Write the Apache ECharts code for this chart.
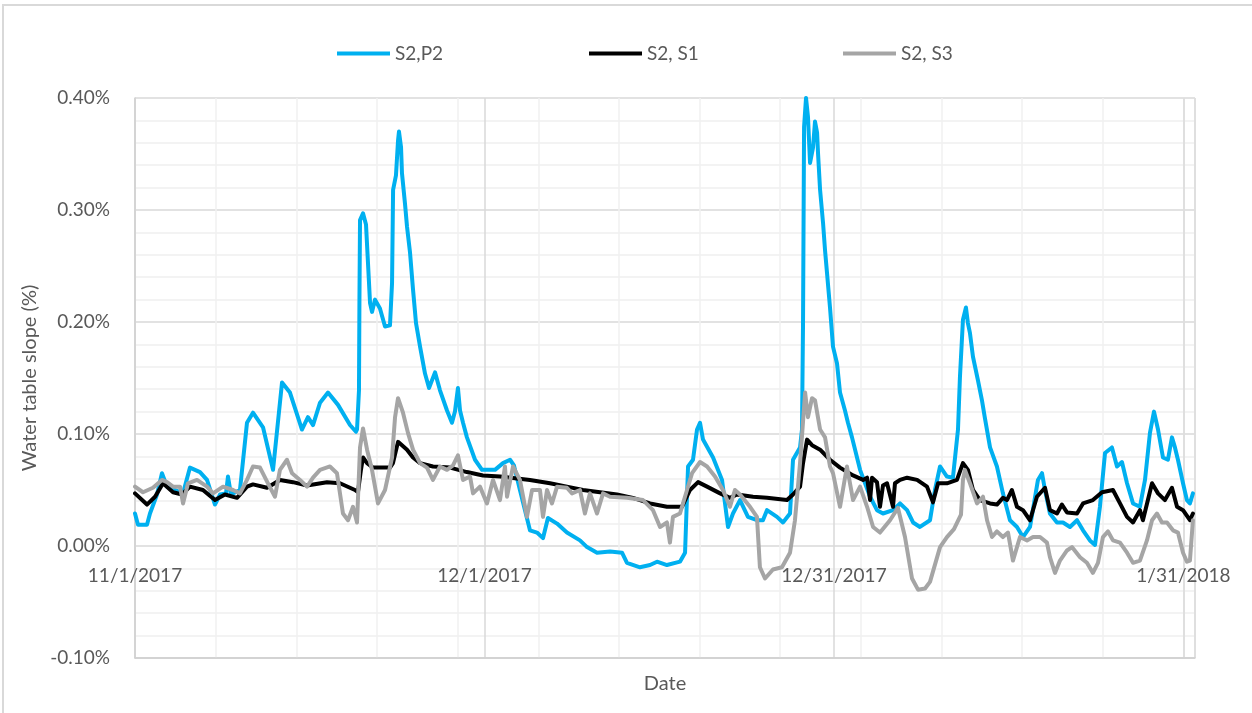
<!DOCTYPE html>
<html>
<head>
<meta charset="utf-8">
<script src="https://cdn.jsdelivr.net/npm/echarts@6/dist/echarts.min.js"></script>
<style>
  html, body { margin: 0; padding: 0; background: #fff; }
  #main { width: 1252px; height: 713px; }
</style>
</head>
<body>
<div id="main"></div>
<script>
// x = days since 11/1/2017, y = slope in %
const seriesNames = ['S2,P2', 'S2, S1', 'S2, S3']
const seriesColors = ['#00b0f0', '#000000', '#a5a5a5']

const p2Data = [
  [0, 0.029], [0.26, 0.019], [1.04, 0.019], [1.3, 0.029], [1.91, 0.046], [2.34, 0.065],
  [2.78, 0.053], [3.47, 0.05], [4.17, 0.047], [4.77, 0.07], [5.64, 0.066], [6.25, 0.059],
  [6.94, 0.037], [7.38, 0.046], [7.9, 0.047], [8.07, 0.062], [8.33, 0.046], [9.11, 0.05],
  [9.72, 0.11], [10.24, 0.119], [11.11, 0.106], [11.98, 0.068], [12.76, 0.146], [13.45, 0.137],
  [14.49, 0.104], [15.01, 0.115], [15.45, 0.108], [16.06, 0.128], [16.75, 0.137], [17.62, 0.126],
  [18.66, 0.108], [19.18, 0.102], [19.27, 0.104], [19.44, 0.139], [19.48, 0.22], [19.53, 0.291],
  [19.79, 0.297], [20.05, 0.287], [20.22, 0.253], [20.4, 0.217], [20.57, 0.209], [20.83, 0.22],
  [21.26, 0.212], [21.7, 0.196], [22.13, 0.197], [22.31, 0.235], [22.4, 0.318], [22.65, 0.331],
  [22.83, 0.362], [22.91, 0.37], [23.09, 0.356], [23.17, 0.333], [23.43, 0.306], [23.61, 0.285],
  [23.87, 0.262], [24.13, 0.229], [24.39, 0.199], [24.74, 0.178], [25.17, 0.154], [25.52, 0.141],
  [26.04, 0.155], [26.47, 0.139], [27.08, 0.121], [27.51, 0.11], [27.77, 0.12], [28.03, 0.141],
  [28.21, 0.121], [28.47, 0.11], [28.81, 0.097], [29.51, 0.077], [30.12, 0.068], [31.24, 0.068],
  [31.94, 0.074], [32.55, 0.077], [32.89, 0.072], [33.41, 0.05], [34.28, 0.014], [34.89, 0.012],
  [35.41, 0.007], [35.84, 0.025], [36.63, 0.02], [37.49, 0.012], [38.62, 0.005], [39.23, -0.001],
  [40.1, -0.006], [41.23, -0.005], [42.27, -0.006], [42.7, -0.015], [43.83, -0.019], [44.7, -0.017],
  [45.31, -0.014], [46.17, -0.017], [47.3, -0.014], [47.74, -0.006], [48.0, 0.071], [48.43, 0.077],
  [48.78, 0.104], [49.04, 0.11], [49.3, 0.095], [50.17, 0.079], [50.95, 0.059], [51.47, 0.017],
  [51.9, 0.029], [52.51, 0.041], [53.2, 0.026], [53.98, 0.023], [54.5, 0.023], [54.85, 0.032],
  [55.72, 0.026], [56.24, 0.021], [56.85, 0.029], [57.11, 0.077], [57.72, 0.088], [57.89, 0.104],
  [57.98, 0.199], [58.07, 0.374], [58.24, 0.4], [58.41, 0.383], [58.59, 0.342], [58.85, 0.356],
  [59.02, 0.379], [59.2, 0.369], [59.28, 0.351], [59.46, 0.318], [59.72, 0.288], [59.89, 0.264],
  [60.06, 0.244], [60.32, 0.213], [60.58, 0.178], [60.93, 0.163], [61.19, 0.137], [61.62, 0.121],
  [61.88, 0.11], [62.23, 0.097], [62.93, 0.068], [63.8, 0.044], [64.4, 0.032], [64.92, 0.029],
  [65.79, 0.032], [66.4, 0.038], [67.01, 0.032], [67.53, 0.021], [68.13, 0.017], [69.0, 0.023],
  [69.43, 0.05], [69.87, 0.071], [70.47, 0.062], [70.99, 0.061], [71.43, 0.104], [71.6, 0.151],
  [71.86, 0.202], [72.12, 0.213], [72.29, 0.199], [72.47, 0.19], [72.73, 0.169], [73.16, 0.148],
  [73.51, 0.13], [73.77, 0.114], [74.21, 0.088], [74.81, 0.071], [75.33, 0.047], [75.94, 0.023],
  [76.55, 0.017], [77.07, 0.008], [77.68, 0.017], [78.37, 0.059], [78.72, 0.065], [78.98, 0.05],
  [79.41, 0.029], [80.02, 0.021], [80.54, 0.021], [81.15, 0.017], [81.76, 0.023], [82.28, 0.014],
  [82.88, 0.005], [83.32, 0.001], [83.75, 0.035], [84.19, 0.083], [84.79, 0.088], [85.23, 0.071],
  [85.66, 0.075], [86.1, 0.056], [86.62, 0.038], [87.22, 0.035], [87.66, 0.059], [88.09, 0.101],
  [88.44, 0.12], [88.79, 0.104], [89.22, 0.079], [89.65, 0.077], [90.0, 0.097], [90.26, 0.088],
  [90.52, 0.077], [90.96, 0.056], [91.3, 0.041], [91.56, 0.038], [91.82, 0.047]
]

const s1Data = [
  [0, 0.047], [1.04, 0.037], [1.74, 0.044], [2.43, 0.056], [3.3, 0.048], [4.08, 0.046],
  [4.77, 0.053], [5.9, 0.05], [6.94, 0.041], [7.81, 0.046], [8.85, 0.043], [9.72, 0.053],
  [10.24, 0.055], [11.46, 0.052], [12.58, 0.059], [13.71, 0.057], [14.93, 0.054], [16.66, 0.057],
  [17.79, 0.056], [19.09, 0.05], [19.35, 0.048], [19.61, 0.068], [19.79, 0.079], [20.14, 0.074],
  [20.66, 0.07], [22.13, 0.07], [22.39, 0.074], [22.83, 0.093], [23.61, 0.086], [24.13, 0.079],
  [24.74, 0.074], [25.86, 0.071], [27.34, 0.07], [28.81, 0.066], [30.2, 0.063], [31.68, 0.062],
  [34.28, 0.059], [36.02, 0.056], [37.49, 0.053], [38.88, 0.05], [40.36, 0.048], [41.83, 0.046],
  [43.22, 0.043], [44.7, 0.038], [46.17, 0.035], [47.47, 0.035], [48.17, 0.05], [48.87, 0.057],
  [49.65, 0.053], [50.78, 0.047], [51.64, 0.043], [52.25, 0.046], [53.64, 0.044], [54.85, 0.043],
  [56.59, 0.041], [57.11, 0.046], [57.72, 0.053], [57.98, 0.074], [58.33, 0.095], [58.76, 0.09],
  [59.46, 0.086], [60.32, 0.077], [61.19, 0.07], [62.32, 0.063], [63.19, 0.059], [63.54, 0.061],
  [63.8, 0.041], [63.97, 0.061], [64.4, 0.057], [64.66, 0.035], [64.92, 0.054], [65.27, 0.056],
  [65.79, 0.035], [65.96, 0.056], [66.4, 0.059], [67.01, 0.061], [67.88, 0.059], [68.74, 0.053],
  [69.26, 0.039], [69.7, 0.056], [70.47, 0.056], [71.34, 0.059], [71.86, 0.074], [72.29, 0.068],
  [72.73, 0.05], [73.33, 0.041], [74.21, 0.038], [74.81, 0.037], [75.33, 0.043], [75.68, 0.041],
  [76.11, 0.05], [76.55, 0.035], [77.07, 0.032], [77.68, 0.023], [78.28, 0.044], [78.98, 0.052],
  [79.41, 0.032], [80.02, 0.029], [80.45, 0.037], [80.89, 0.03], [81.76, 0.029], [82.28, 0.038],
  [83.14, 0.041], [83.93, 0.048], [84.88, 0.05], [85.49, 0.038], [86.1, 0.026], [86.62, 0.021],
  [87.22, 0.032], [87.48, 0.023], [88.27, 0.056], [88.79, 0.047], [89.39, 0.041], [90.0, 0.052],
  [90.44, 0.035], [90.96, 0.032], [91.56, 0.023], [91.82, 0.029]
]

const s3Data = [
  [0, 0.053], [0.69, 0.048], [1.56, 0.052], [2.34, 0.059], [2.78, 0.057], [3.3, 0.053],
  [3.91, 0.053], [4.17, 0.038], [4.6, 0.056], [5.38, 0.059], [6.25, 0.053], [6.77, 0.047],
  [7.64, 0.053], [8.51, 0.05], [9.11, 0.047], [9.72, 0.059], [10.24, 0.071], [10.85, 0.07],
  [11.54, 0.056], [12.15, 0.044], [12.58, 0.068], [13.19, 0.077], [13.63, 0.065], [14.32, 0.059],
  [14.93, 0.053], [15.45, 0.061], [16.06, 0.068], [16.92, 0.071], [17.53, 0.065], [18.05, 0.029],
  [18.49, 0.023], [18.92, 0.035], [19.27, 0.021], [19.53, 0.088], [19.79, 0.105], [20.14, 0.086],
  [20.57, 0.068], [21.09, 0.038], [21.7, 0.05], [22.31, 0.079], [22.57, 0.115], [22.83, 0.132],
  [23.26, 0.119], [23.69, 0.101], [24.13, 0.086], [24.74, 0.074], [25.34, 0.07], [25.86, 0.059],
  [26.47, 0.071], [27.08, 0.068], [27.6, 0.072], [28.03, 0.081], [28.47, 0.059], [29.08, 0.062],
  [29.34, 0.047], [29.94, 0.053], [30.55, 0.038], [31.07, 0.059], [31.68, 0.041], [32.11, 0.071],
  [32.29, 0.044], [32.81, 0.071], [33.41, 0.059], [34.02, 0.026], [34.46, 0.05], [35.15, 0.05],
  [35.41, 0.026], [35.76, 0.05], [36.19, 0.038], [36.63, 0.053], [37.49, 0.052], [37.93, 0.047],
  [38.62, 0.05], [39.05, 0.029], [39.49, 0.047], [40.1, 0.029], [40.62, 0.047], [41.23, 0.044],
  [42.7, 0.043], [44.09, 0.041], [44.96, 0.032], [45.57, 0.017], [46.17, 0.021], [46.43, 0.003],
  [46.69, 0.026], [47.3, 0.029], [47.91, 0.05], [48.35, 0.065], [49.04, 0.075], [49.65, 0.071],
  [50.34, 0.062], [51.03, 0.05], [51.64, 0.035], [52.07, 0.05], [52.51, 0.046], [53.38, 0.035],
  [53.98, 0.026], [54.24, -0.019], [54.68, -0.029], [55.37, -0.021], [56.15, -0.019], [56.85, -0.006],
  [57.28, 0.023], [57.72, 0.074], [58.16, 0.137], [58.41, 0.115], [58.76, 0.132], [59.02, 0.13],
  [59.46, 0.104], [59.89, 0.097], [60.32, 0.071], [60.58, 0.065], [61.19, 0.035], [61.79, 0.071],
  [62.32, 0.041], [62.93, 0.053], [63.54, 0.035], [64.06, 0.017], [64.66, 0.012], [65.53, 0.023],
  [66.22, 0.034], [66.83, 0.008], [67.44, -0.029], [67.96, -0.039], [68.57, -0.038], [69.0, -0.032],
  [69.87, -0.001], [70.47, 0.008], [71.08, 0.015], [71.69, 0.028], [71.86, 0.059], [72.03, 0.068],
  [72.47, 0.056], [73.08, 0.038], [73.6, 0.044], [73.95, 0.023], [74.38, 0.008], [74.81, 0.013],
  [75.33, 0.008], [75.77, 0.012], [76.2, -0.013], [76.81, 0.008], [77.42, 0.005], [77.94, 0.008],
  [78.55, 0.008], [79.15, 0.003], [79.41, -0.01], [79.85, -0.024], [80.28, -0.013], [80.89, -0.004],
  [81.32, -0.001], [82.02, -0.01], [82.62, -0.015], [83.14, -0.024], [83.58, -0.015], [84.01, 0.008],
  [84.45, 0.013], [84.88, 0.005], [85.49, 0.003], [86.1, -0.006], [86.62, -0.015], [87.22, -0.013],
  [87.83, 0.005], [88.27, 0.023], [88.7, 0.029], [89.13, 0.021], [89.57, 0.021], [90.09, 0.014],
  [90.52, 0.012], [90.96, -0.006], [91.3, -0.014], [91.56, -0.013], [91.82, 0.023]
]

const allData = [p2Data, s1Data, s3Data]
const legendLeft = [332, 584, 838]

const fontFamily = 'Lato, "Open Sans", sans-serif'
const textColor = '#595959'

function dayLabel(value) {
  if (value > 91.5) return ''
  const d = new Date(2017, 10, 1 + Math.floor(value + 1e-6))
  return (d.getMonth() + 1) + '/' + d.getDate() + '/' + d.getFullYear()
}

var myChart = echarts.init(document.getElementById('main'))
var option = {
  animation: false,
  backgroundColor: '#fff',
  textStyle: { fontFamily: fontFamily },
  graphic: [
    {
      type: 'rect',
      shape: { x: 3, y: 5, width: 1300, height: 800 },
      style: { fill: 'none', stroke: '#d9d9d9', lineWidth: 2 },
      silent: true,
    },
  ],
  legend: seriesNames.map((name, i) => ({
    data: [name],
    left: legendLeft[i],
    top: 39,
    icon: 'rect',
    itemWidth: 53,
    itemHeight: 4,
    textStyle: { color: textColor, fontSize: 19, fontFamily: fontFamily },
  })),
  grid: {
    left: 135,
    right: 57,
    top: 98,
    bottom: 55,
    outerBoundsMode: 'none',
    containLabel: false,
  },
  xAxis: [
    {
      // weekly minor grid
      type: 'value',
      min: 0,
      max: 92,
      interval: 7,
      position: 'top',
      axisLine: { show: false, onZero: false },
      axisTick: { show: false },
      axisLabel: { show: false },
      splitLine: { show: true, lineStyle: { color: '#f0f0f0', width: 1.5 } },
    },
    {
      type: 'value',
      min: 0,
      max: 92,
      interval: 91 / 3,
      position: 'bottom',
      name: 'Date',
      nameLocation: 'middle',
      nameGap: 16,
      nameTextStyle: { color: textColor, fontSize: 20, fontFamily: fontFamily },
      axisLine: { show: true, onZero: false, lineStyle: { color: '#d0d0d0', width: 1.5 } },
      axisTick: { show: false },
      axisLabel: {
        color: textColor,
        fontSize: 19,
        // labels sit under the 0.00% line, like Excel's axis crossing at zero
        margin: -92,
        showMaxLabel: false,
        formatter: dayLabel,
      },
      splitLine: { show: true, lineStyle: { color: '#d9d9d9', width: 1.5 } },
    },
  ],
  yAxis: {
    type: 'value',
    min: -0.1,
    max: 0.4,
    interval: 0.1,
    name: 'Water table slope (%)',
    nameLocation: 'middle',
    nameGap: 94,
    nameTextStyle: { color: textColor, fontSize: 20, fontFamily: fontFamily },
    axisLine: { show: true, lineStyle: { color: '#d0d0d0', width: 1.5 } },
    axisTick: { show: false },
    axisLabel: {
      color: textColor,
      fontSize: 19,
      margin: 25,
      formatter: (v) => v.toFixed(2) + '%',
    },
    splitLine: {
      show: true,
      lineStyle: { color: ['#d0d0d0', '#d9d9d9', '#d9d9d9', '#d9d9d9', '#d9d9d9', '#d9d9d9'], width: 1.5 },
    },
    minorTick: { show: false, splitNumber: 5 },
    minorSplitLine: { show: true, lineStyle: { color: '#f0f0f0', width: 1.5 } },
  },
  series: seriesNames.map((name, i) => ({
    name: name,
    type: 'line',
    xAxisIndex: 1,
    data: allData[i],
    showSymbol: false,
    symbol: 'none',
    color: seriesColors[i],
    lineStyle: { width: 4, color: seriesColors[i], join: 'round', cap: 'round' },
  })),
}

myChart.setOption(option)
window.addEventListener('resize', function () {
  myChart.resize()
})
</script>
</body>
</html>
